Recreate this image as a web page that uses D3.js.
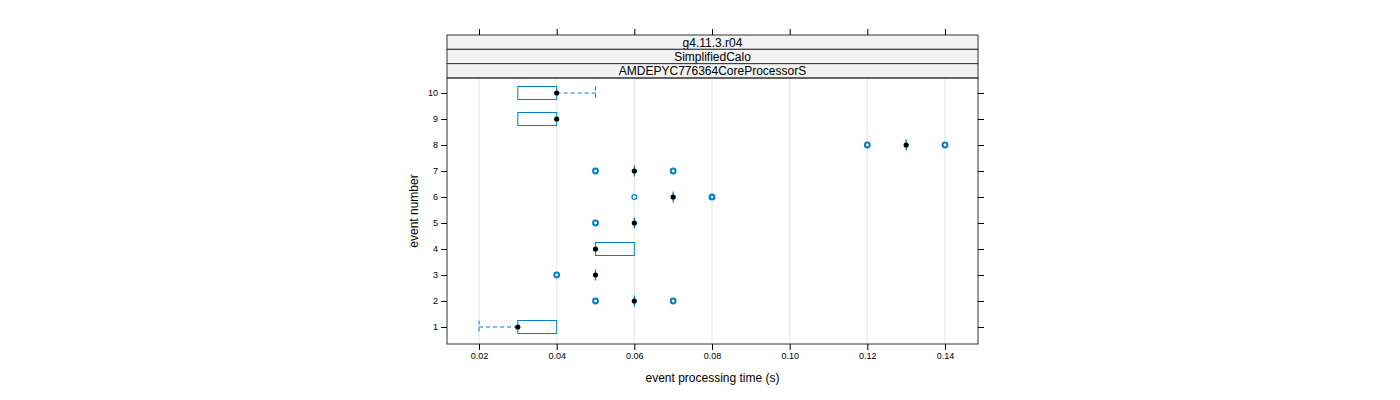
<!DOCTYPE html>
<html><head><meta charset="utf-8">
<script src="https://cdn.jsdelivr.net/npm/d3@7"></script>
<style>body{margin:0;background:#fff;font-family:"Liberation Sans",Arial,sans-serif}</style>
</head><body><div id="chart"></div>
<script>
// per event: whisker low, q1, median, q3, whisker high, outliers
var events = [1,2,3,4,5,6,7,8,9,10];
var wlo = [0.02,0.06,0.05,0.05,0.06,0.07,0.06,0.13,0.03,0.03];
var q1  = [0.03,0.06,0.05,0.05,0.06,0.07,0.06,0.13,0.03,0.03];
var med = [0.03,0.06,0.05,0.05,0.06,0.07,0.06,0.13,0.04,0.04];
var q3  = [0.04,0.06,0.05,0.06,0.06,0.07,0.06,0.13,0.04,0.04];
var whi = [0.04,0.06,0.05,0.06,0.06,0.07,0.06,0.13,0.04,0.05];
var outliers = [[],[0.05,0.07],[0.04],[],[0.05],[0.06,0.08],[0.05,0.07],[0.12,0.14],[],[]];
var outlierWeight = [[],[2,2],[2],[],[2],[1.2,2.2],[2,2],[2,2],[],[]];
var xTicks = [0.02,0.04,0.06,0.08,0.10,0.12,0.14];
var strips = ["g4.11.3.r04","SimplifiedCalo","AMDEPYC776364CoreProcessorS"];

var W=1400,H=400, L=447,R=978,T=78,B=344;
var svg=d3.select("#chart").append("svg").attr("width",W).attr("height",H);
var blue="#0080c0";
var x=d3.scaleLinear().domain([0.011757,0.148498]).range([L,R]);
var y=d3.scaleLinear().domain([0.346,10.577]).range([B,T]);

// grid
svg.selectAll(".grid").data(xTicks).enter().append("line")
  .attr("x1",d=>x(d)).attr("x2",d=>x(d)).attr("y1",T).attr("y2",B)
  .attr("stroke","#e6e6e6");

// strips
strips.forEach(function(s,i){
  var y0=35+i*14.33;
  svg.append("rect").attr("x",L).attr("y",y0).attr("width",R-L).attr("height",14.33)
    .attr("fill","#f2f2f2").attr("stroke","#333");
  svg.append("text").attr("x",(L+R)/2).attr("y",y0+11.5).attr("text-anchor","middle")
    .attr("font-size",12).text(s);
});
svg.append("rect").attr("x",L).attr("y",T).attr("width",R-L).attr("height",B-T)
  .attr("fill","none").attr("stroke","#333");

// axes
var axB=svg.append("g").attr("transform","translate(0,"+B+")")
  .call(d3.axisBottom(x).tickValues(xTicks).tickSize(6).tickFormat(d3.format(".2f")));
axB.select(".domain").remove();
axB.selectAll("text").attr("font-size",9).attr("font-family","Liberation Sans");
var axT=svg.append("g").attr("transform","translate(0,35)")
  .call(d3.axisTop(x).tickValues(xTicks).tickSize(6).tickFormat(""));
axT.select(".domain").remove();
var axL=svg.append("g").attr("transform","translate("+L+",0)")
  .call(d3.axisLeft(y).tickValues(events).tickSize(6).tickFormat(d3.format("d")));
axL.select(".domain").remove();
axL.selectAll("text").attr("font-size",9).attr("font-family","Liberation Sans");
var axR=svg.append("g").attr("transform","translate("+R+",0)")
  .call(d3.axisRight(y).tickValues(events).tickSize(6).tickFormat(""));
axR.select(".domain").remove();

svg.append("text").attr("x",(L+R)/2).attr("y",382).attr("text-anchor","middle")
  .attr("font-size",12).text("event processing time (s)");
svg.append("text").attr("transform","translate(418,"+((T+B)/2)+") rotate(-90)")
  .attr("text-anchor","middle").attr("font-size",12).text("event number");

// boxes
var bh=13;
events.forEach(function(e,i){
  var yc=y(e), g=svg.append("g");
  if(wlo[i]<q1[i]){
    g.append("line").attr("x1",x(wlo[i])).attr("x2",x(q1[i])).attr("y1",yc).attr("y2",yc)
      .attr("stroke",blue).attr("stroke-dasharray","4,3");
    g.append("line").attr("x1",x(wlo[i])).attr("x2",x(wlo[i])).attr("y1",yc-bh/2).attr("y2",yc+bh/2)
      .attr("stroke",blue).attr("stroke-dasharray","4,3");
  }
  if(whi[i]>q3[i]){
    g.append("line").attr("x1",x(q3[i])).attr("x2",x(whi[i])).attr("y1",yc).attr("y2",yc)
      .attr("stroke",blue).attr("stroke-dasharray","4,3");
    g.append("line").attr("x1",x(whi[i])).attr("x2",x(whi[i])).attr("y1",yc-bh/2).attr("y2",yc+bh/2)
      .attr("stroke",blue).attr("stroke-dasharray","4,3");
  }
  if(q3[i]>q1[i]){
    g.append("rect").attr("x",x(q1[i])).attr("y",yc-bh/2).attr("width",x(q3[i])-x(q1[i])).attr("height",bh)
      .attr("fill","none").attr("stroke",blue);
  } else {
    g.append("line").attr("x1",x(q1[i])).attr("x2",x(q1[i])).attr("y1",yc-bh/2+1).attr("y2",yc+bh/2-1)
      .attr("stroke",blue).attr("stroke-width",1.3);
  }
  outliers[i].forEach(function(o,k){
    g.append("circle").attr("cx",x(o)).attr("cy",yc).attr("r",2.4)
      .attr("fill","none").attr("stroke",blue).attr("stroke-width",outlierWeight[i][k]);
  });
  g.append("circle").attr("cx",x(med[i])).attr("cy",yc).attr("r",2.6).attr("fill","#000");
});
</script></body></html>
